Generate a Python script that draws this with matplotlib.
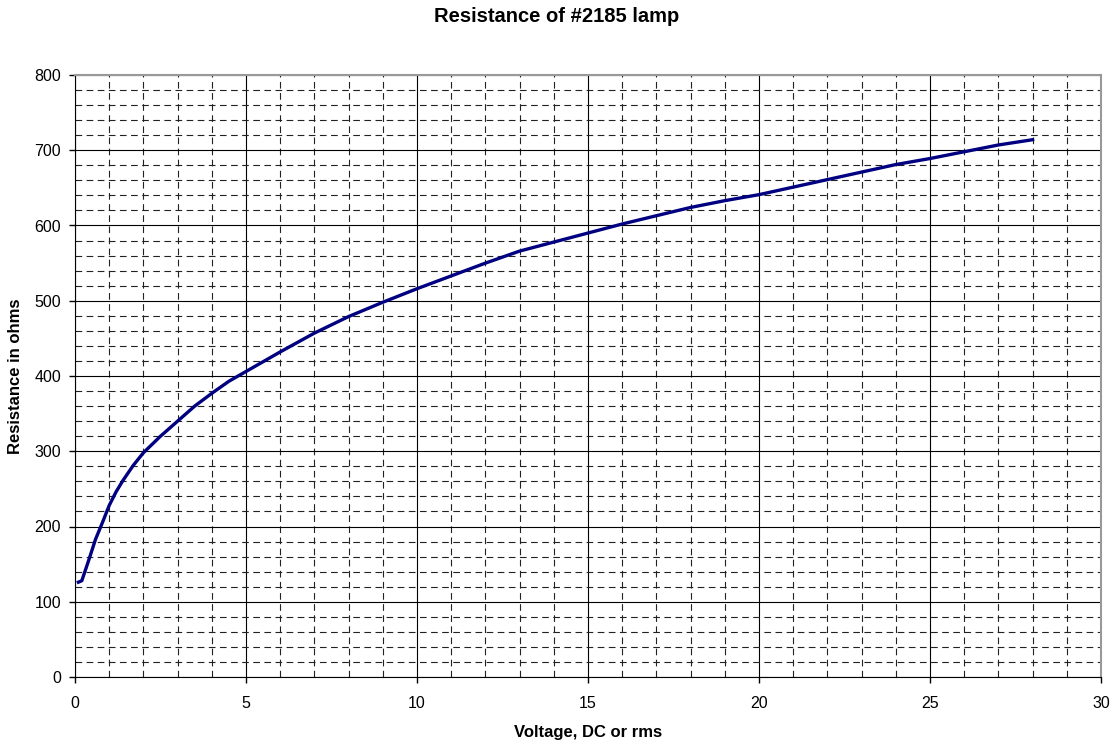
#! /usr/bin/env python3

import matplotlib
matplotlib.use("Agg")
import matplotlib.pyplot as plt
from matplotlib.ticker import MultipleLocator

plt.rcParams['font.family'] = ['Liberation Sans', 'DejaVu Sans']

# voltage (V) and resistance (ohms)
volts = [0.1, 0.2, 0.4, 0.6, 0.8, 1.0, 1.2, 1.4, 1.7, 2.0, 2.5, 3.0, 3.5, 4.0,
         4.5, 5.0, 6.0, 7.0, 8.0, 9.0, 10.0, 11.0, 12.0, 13.0, 14.0, 15.0,
         16.0, 17.0, 18.0, 19.0, 20.0, 21.0, 22.0, 23.0, 24.0, 25.0, 26.0,
         27.0, 28.0]
ohms = [126, 128, 155, 183, 205, 228, 246, 261, 281, 298, 320, 340, 360, 377,
        393, 406, 432, 457, 479, 498, 516, 533, 550, 566, 578, 590,
        602, 613, 624, 633, 641, 651, 661, 671, 681, 689, 698,
        707, 714]

fig = plt.figure(figsize=(11.14, 7.42), dpi=100)
ax = fig.add_axes([75/1114, 65/742, 1026/1114, 602/742])

ax.plot(volts, ohms, color='#000080', linewidth=2.4, zorder=3)

ax.set_xlim(0, 30)
ax.set_ylim(0, 800)
ax.xaxis.set_major_locator(MultipleLocator(5))
ax.xaxis.set_minor_locator(MultipleLocator(1))
ax.yaxis.set_major_locator(MultipleLocator(100))
ax.yaxis.set_minor_locator(MultipleLocator(20))

ax.grid(which='major', color='black', linewidth=0.8, linestyle='-')
ax.grid(which='minor', color='#222222', linewidth=0.8, linestyle=(0, (6, 4)))
ax.set_axisbelow(True)

ax.tick_params(which='major', direction='out', length=4, width=1, labelsize=11.5)
ax.tick_params(axis='x', pad=10)
ax.tick_params(axis='y', pad=6)
ax.tick_params(which='minor', length=0)

ax.spines['left'].set_color('black')
ax.spines['bottom'].set_color('black')
ax.spines['top'].set_color('#999999')
ax.spines['right'].set_color('#999999')
ax.spines['top'].set_linewidth(1.5)
ax.spines['right'].set_linewidth(1.5)

ax.set_xlabel("Voltage, DC or rms", fontsize=12, fontweight='bold', labelpad=10)
ax.set_ylabel("Resistance in ohms", fontsize=12, fontweight='bold', labelpad=8)
fig.text(0.5, 1 - 17/742, "Resistance of #2185 lamp", fontsize=14.5,
         fontweight='bold', ha='center', va='center')

fig.savefig("out.png", dpi=100)
